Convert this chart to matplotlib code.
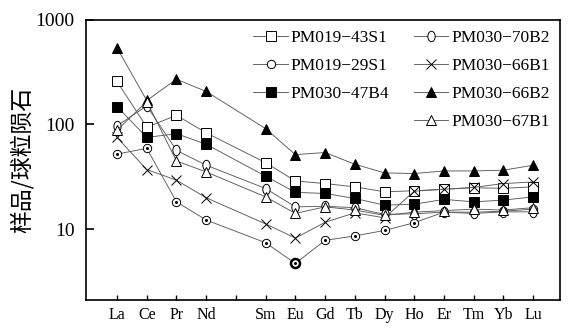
import numpy as np
import matplotlib.pyplot as plt
from matplotlib.path import Path
from matplotlib.transforms import Affine2D
from matplotlib.lines import Line2D

# REE chondrite-normalised values (Pm not analysed)
elements = ['La', 'Ce', 'Pr', 'Nd', 'Pm', 'Sm', 'Eu', 'Gd', 'Tb', 'Dy', 'Ho', 'Er', 'Tm', 'Yb', 'Lu']
tick_labels = ['La', 'Ce', 'Pr', 'Nd', '', 'Sm', 'Eu', 'Gd', 'Tb', 'Dy', 'Ho', 'Er', 'Tm', 'Yb', 'Lu']
measured = ['La', 'Ce', 'Pr', 'Nd', 'Sm', 'Eu', 'Gd', 'Tb', 'Dy', 'Ho', 'Er', 'Tm', 'Yb', 'Lu']

pm019_43s1 = [257, 94, 122, 83, 43, 28.8, 27.2, 25.3, 22.7, 23.2, 24.0, 24.8, 24.5, 25.3]
pm019_29s1 = [52, 59, 18.2, 12.2, 7.4, 4.7, 7.8, 8.6, 9.7, 11.5, 14.5, 14.5, 14.8, 15.5]
pm030_47b4 = [148, 75, 81.5, 64.5, 32, 22.4, 21.9, 19.6, 16.9, 17.3, 19.2, 18.2, 18.9, 20.3]
pm030_70b2 = [97, 150, 56.5, 40.7, 24.4, 16.3, 16.5, 16.0, 13.8, 14.0, 14.5, 14.1, 14.6, 14.6]
pm030_66b1 = [75, 37, 29.3, 19.9, 11.2, 8.2, 11.6, 14.3, 12.8, 23.0, 24.0, 25.0, 27.2, 28.2]
pm030_66b2 = [537, 169, 270, 206, 91, 51.4, 53.8, 41.6, 34.4, 33.9, 35.9, 35.9, 36.5, 40.7]
pm030_67b1 = [88, 165, 44.7, 35.1, 20.3, 14.1, 16.3, 15.2, 13.5, 14.5, 15.0, 15.5, 15.2, 16.0]

plt.rcParams['font.family'] = ['Liberation Serif', 'DejaVu Serif']

x = np.array([elements.index(e) for e in measured])

# tall ellipse marker for PM030-70B2
oval = Path.unit_circle().transformed(Affine2D().scale(0.7, 1.0))

line_kw = dict(color='#5a5a5a', lw=0.65, mec='black', mew=0.7)

fig = plt.figure(figsize=(5.76, 3.33), dpi=100)
ax = fig.add_axes([0.149, 0.099, 0.823, 0.842])

h1, = ax.plot(x, pm019_43s1, marker='s', ms=6.5, mfc='white', **line_kw)
h2, = ax.plot(x, pm019_29s1, marker='o', ms=6, mfc='white', **line_kw)
ax.plot(x, pm019_29s1, ls='none', marker='o', ms=1.2, color='black')
ax.plot(x[5], pm019_29s1[5], marker='o', ms=6.5, mfc='none', mec='black', mew=1.8)
h3, = ax.plot(x, pm030_47b4, marker='s', ms=6.5, mfc='black', **line_kw)
h4, = ax.plot(x, pm030_70b2, marker=oval, ms=7.5, mfc='white', **line_kw)
h5, = ax.plot(x, pm030_66b1, marker='x', ms=6.5, **line_kw)
h6, = ax.plot(x, pm030_66b2, marker='^', ms=6.5, mfc='black', **line_kw)
h7, = ax.plot(x, pm030_67b1, marker='^', ms=6.5, mfc='white', **line_kw)

ax.set_yscale('log')
ax.set_ylim(2.1, 1000)
ax.set_xlim(-1.05, 14.9)
ax.set_xticks(range(len(elements)))
ax.set_xticklabels(tick_labels, fontsize=11.5)
ax.set_yticks([10, 100, 1000])
ax.set_yticklabels(['10', '100', '1000'], fontsize=14)
ax.minorticks_off()
ax.tick_params(axis='y', direction='in', length=6, width=1.2, pad=8)
ax.tick_params(axis='x', direction='in', length=3.5, width=1.0, pad=5)
for sp in ax.spines.values():
    sp.set_linewidth(1.2)

ax.set_ylabel('样品/球粒陨石', family=['Noto Sans CJK SC', 'DejaVu Sans'], fontsize=16.5, labelpad=1)

blank = Line2D([], [], ls='none')
ax.legend([h1, h2, h3, blank, h4, h5, h6, h7],
          ['PM019−43S1', 'PM019−29S1', 'PM030−47B4', '', 'PM030−70B2', 'PM030−66B1', 'PM030−66B2', 'PM030−67B1'],
          ncol=2, loc='upper right', bbox_to_anchor=(1.0, 1.0), frameon=False, fontsize=12.5,
          handlelength=2.0, handletextpad=0.15, labelspacing=0.68, columnspacing=1.4, borderaxespad=0.2)

fig.savefig('out.png', dpi=100)
